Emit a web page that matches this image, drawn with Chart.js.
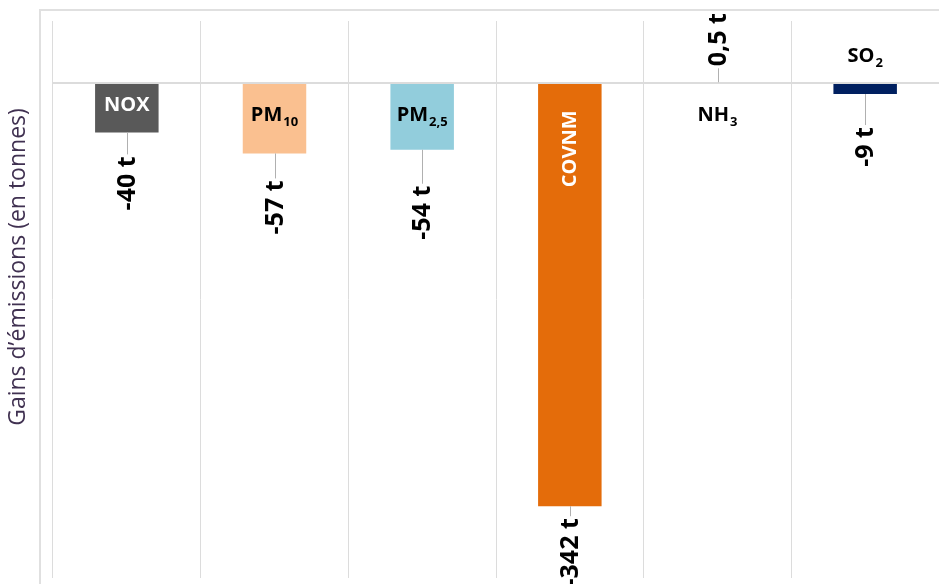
<!DOCTYPE html>
<html>
<head>
<meta charset="utf-8">
<script src="https://cdn.jsdelivr.net/npm/chart.js@4/dist/chart.umd.min.js"></script>
<style>
  html, body { margin: 0; padding: 0; background: #fff; }
</style>
</head>
<body>
<canvas id="my-chart-gains" width="939" height="584"></canvas>
<script>
// data
const categories = ['NOX', 'PM10', 'PM2,5', 'COVNM', 'NH3', 'SO2'];
const labelMain = ['NOX', 'PM', 'PM', 'COVNM', 'NH', 'SO'];
const labelSub = ['', '10', '2,5', '', '3', '2'];
const gains = [-40, -57, -54, -342, 0.5, -9];
const barColors = ['#595959', '#fac090', '#92cddc', '#e46c0a', '#dcdcdc', '#002060'];
const yTitle = 'Gains d\u2019émissions (en tonnes)';

function formatValue(v) {
  return String(v).replace('.', ',') + ' t';
}

function drawCategory(ctx, i, cx, cy, color, rotated) {
  const mainFont = 'bold 20px "Open Sans"';
  const subFont = 'bold 13px "Open Sans"';
  ctx.save();
  ctx.font = mainFont;
  const w1 = ctx.measureText(labelMain[i]).width;
  ctx.font = subFont;
  const w2 = labelSub[i] ? ctx.measureText(labelSub[i]).width + 1 : 0;
  ctx.translate(cx, cy);
  if (rotated) ctx.rotate(-Math.PI / 2);
  ctx.fillStyle = color;
  ctx.textAlign = 'left';
  ctx.textBaseline = 'middle';
  const start = -(w1 + w2) / 2;
  ctx.font = mainFont;
  ctx.fillText(labelMain[i], start, 0);
  if (labelSub[i]) {
    ctx.font = subFont;
    ctx.fillText(labelSub[i], start + w1 + 1, 7);
  }
  ctx.restore();
}

const labelsPlugin = {
  id: 'labelsPlugin',
  beforeDraw(chart) {
    const ctx = chart.ctx;
    ctx.save();
    ctx.strokeStyle = '#e0e0e0';
    ctx.lineWidth = 2;
    ctx.beginPath();
    ctx.moveTo(40, chart.height);
    ctx.lineTo(40, 10);
    ctx.lineTo(chart.width, 10);
    ctx.stroke();
    ctx.restore();
  },
  afterDatasetsDraw(chart, args, opts) {
    const ctx = chart.ctx;
    const zero = chart.scales.y.getPixelForValue(0);
    chart.getDatasetMeta(0).data.forEach((bar, i) => {
      const v = gains[i];
      const dir = v < 0 ? 1 : -1;
      const gap = opts.leader[i];

      // leader line
      ctx.save();
      ctx.strokeStyle = '#b0b0b0';
      ctx.lineWidth = 1;
      ctx.beginPath();
      ctx.moveTo(Math.round(bar.x) + 0.5, bar.y);
      ctx.lineTo(Math.round(bar.x) + 0.5, bar.y + dir * gap);
      ctx.stroke();

      // value label
      ctx.translate(bar.x, bar.y + dir * (gap + 2));
      ctx.rotate(-Math.PI / 2);
      ctx.font = 'bold 25px "Open Sans"';
      ctx.fillStyle = '#000';
      ctx.textBaseline = 'middle';
      ctx.textAlign = v < 0 ? 'right' : 'left';
      ctx.fillText(formatValue(v), 0, 1);
      ctx.restore();

      // category label
      drawCategory(ctx, i, bar.x, zero + opts.catDy[i], opts.catColor[i], i === 3);
    });

    ctx.save();
    ctx.translate(18, 267);
    ctx.rotate(-Math.PI / 2);
    ctx.font = '23px "Open Sans"';
    ctx.fillStyle = '#403151';
    ctx.textAlign = 'center';
    ctx.textBaseline = 'middle';
    ctx.fillText(yTitle, 0, 0);
    ctx.restore();
  }
};

const canvas = document.getElementById('my-chart-gains');
const ctx = canvas.getContext('2d');

new Chart(ctx, {
  type: 'bar',
  data: {
    labels: categories,
    datasets: [{
      label: 'Gains',
      data: gains,
      backgroundColor: barColors,
      borderWidth: 0,
      barPercentage: 0.43,
      categoryPercentage: 1
    }]
  },
  options: {
    responsive: false,
    animation: false,
    layout: {
      padding: { left: 53, top: 21, right: 0, bottom: 6 }
    },
    scales: {
      x: {
        ticks: { display: false },
        grid: { color: '#dcdcdc', lineWidth: 1, drawTicks: false, offset: true },
        border: { display: false }
      },
      y: {
        min: -400,
        max: 50,
        ticks: { display: false, stepSize: 50 },
        grid: {
          drawTicks: false,
          lineWidth: 2,
          color: c => (c.tick && c.tick.value === 0 ? '#dcdcdc' : 'rgba(0,0,0,0)')
        },
        border: { display: false }
      }
    },
    plugins: {
      legend: { display: false },
      tooltip: { enabled: false },
      labelsPlugin: {
        leader: [22, 25, 34, 10, 14, 31],
        catDy: [22, 32, 32, 66, 32, -27],
        catColor: ['#fff', '#000', '#000', '#fff', '#000', '#000']
      }
    }
  },
  plugins: [labelsPlugin]
});
</script>
</body>
</html>
